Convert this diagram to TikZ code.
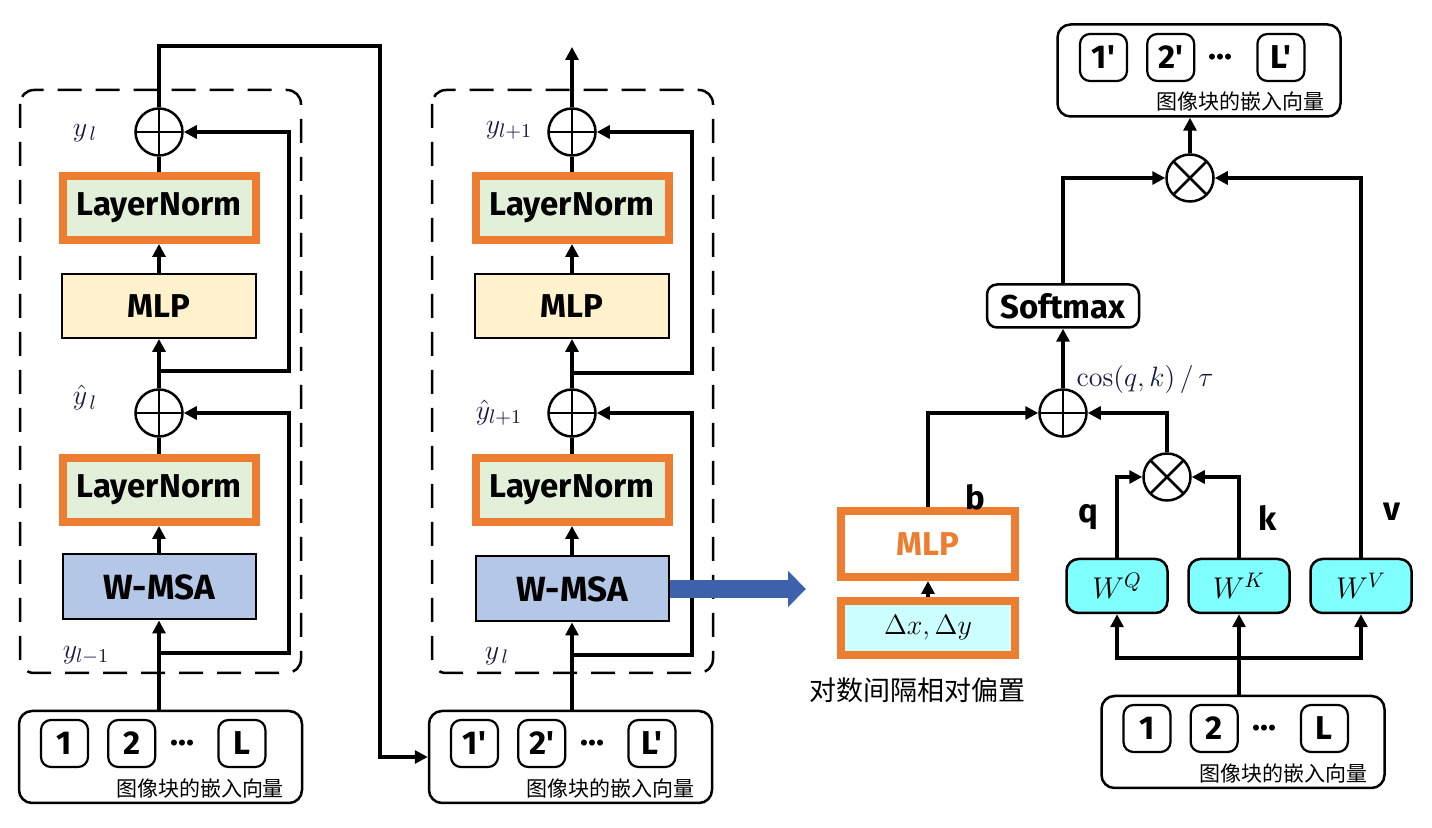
\documentclass[tikz,border=0pt]{standalone}
\usepackage{fix-cm}
\usepackage[no-math]{fontspec}
\newfontfamily\lat{Fira Sans}
\newfontfamily\cjk{Noto Sans CJK SC}
\usepackage{tikz}
\usetikzlibrary{arrows.meta,positioning}

\definecolor{orangeA}{HTML}{ED7D31}
\definecolor{greenL}{HTML}{E2F0D9}
\definecolor{yellowL}{HTML}{FFF2CC}
\definecolor{blueL}{HTML}{B4C7E7}
\definecolor{blueA}{HTML}{3D62AB}
\definecolor{cyanA}{HTML}{80FFFF}
\definecolor{cyanL}{HTML}{CCFFFF}
\definecolor{mathc}{HTML}{141A40}

\begin{document}
\begin{tikzpicture}[x=0.5pt,y=-0.5pt,
    conn/.style={line width=1.6pt},
    arr/.style={conn,-{Triangle[length=6.5pt,width=6.5pt]}},
    bigarrow/.style={line width=9pt,draw=blueA,-{Triangle[length=9pt,width=17.5pt]}},
    blockline/.style={line width=1.25pt,dash pattern=on 12pt off 7pt,rounded corners=7pt},
    boxfont/.style={font=\lat\bfseries\fontsize{16.5}{19}\selectfont},
    lnbox/.style={draw=orangeA,line width=4pt,fill=greenL,minimum width=96.5pt,minimum height=32pt,inner sep=0pt,boxfont},
    mlpbox/.style={draw,line width=1pt,fill=yellowL,minimum width=97pt,minimum height=32pt,inner sep=0pt,boxfont},
    msabox/.style={draw,line width=1pt,fill=blueL,minimum width=96.5pt,minimum height=32.5pt,inner sep=0pt,font=\lat\bfseries\fontsize{17.5}{20}\selectfont},
    addnode/.style={circle,draw,line width=1.25pt,minimum size=23.5pt,inner sep=0pt,
        path picture={\draw[line width=1.25pt] (path picture bounding box.north) -- (path picture bounding box.south)
        (path picture bounding box.west) -- (path picture bounding box.east);}},
    mulnode/.style={circle,draw,line width=1.25pt,minimum size=23.5pt,inner sep=0pt,
        path picture={\draw[line width=1.25pt] (path picture bounding box.north west) -- (path picture bounding box.south east)
        (path picture bounding box.north east) -- (path picture bounding box.south west);}},
    embbox/.style={draw,line width=1.25pt,rounded corners=6.5pt,minimum width=141.5pt,minimum height=46pt},
    tok/.style={draw,line width=1.1pt,rounded corners=5pt,minimum size=23.5pt,inner sep=0pt,boxfont},
    dots/.style={inner sep=0pt,boxfont},
    emblabel/.style={inner sep=0pt,font=\cjk\fontsize{10.5}{12}\selectfont},
    ylabel/.style={inner sep=0pt,text=mathc,font=\fontsize{14}{16}\selectfont},
    smbox/.style={draw,line width=1.25pt,rounded corners=5pt,minimum width=76pt,minimum height=21.5pt,inner sep=0pt,boxfont},
    wbox/.style={draw,line width=1.25pt,fill=cyanA,rounded corners=6pt,minimum width=50.5pt,minimum height=27pt,inner sep=0pt,font=\fontsize{15}{18}\selectfont},
    biasbox/.style={draw=orangeA,line width=4pt,fill=white,text=orangeA,minimum width=87pt,minimum height=33pt,inner sep=0pt,boxfont},
    deltabox/.style={draw=orangeA,line width=4pt,fill=cyanL,minimum width=87pt,minimum height=27pt,inner sep=0pt,font=\fontsize{14}{17}\selectfont},
    vlabel/.style={inner sep=0pt,boxfont}
]
    \useasboundingbox (0,0) rectangle (1432,828);

    % First block
    \draw[blockline] (20,90) rectangle (301,673);
    \node[addnode] (addA1) at (159,132) {};
    \node[lnbox] (lnA2) at (159,208) {LayerNorm};
    \node[mlpbox] (mlpA) at (159,306) {MLP};
    \node[addnode] (addA2) at (159,413) {};
    \node[lnbox] (lnA1) at (159,490) {LayerNorm};
    \node[msabox] (msaA) at (159,587) {W-MSA};

    \node[ylabel] (yA1) at (85,133) {$y_{\,l}$};
    \node[ylabel] (yA2) at (85,398) {$\hat{y}_{\,l}$};
    \node[ylabel] (yA0) at (86,655) {$y_{l-1}$};

    % Input embeddings of the first block
    \node[embbox] (embA) at (160.5,757) {};
    \node[tok] (a1) at (64.5,743.5) {1};
    \node[tok,right=9pt of a1] (a2) {2};
    \node[tok,right=30.5pt of a2] (aL) {L};
    \node[dots] (aD) at (182,743) {…};
    \node[emblabel] (aT) at (200,788) {图像块的嵌入向量};

    \draw[arr] (msaA |- embA.north) -- (msaA.south);
    \draw[arr] (msaA.north) -- (lnA1.south);
    \draw[conn] (lnA1.north) -- (addA2.south);
    \draw[arr] (addA2.north) -- (mlpA.south);
    \draw[arr] (mlpA.north) -- (lnA2.south);
    \draw[conn] (lnA2.north) -- (addA1.south);

    % Residual paths
    \coordinate (resA1) at (159,371);
    \coordinate (resA2) at (159,653);
    \draw[arr] (resA1) -- (289,371) |- (addA1.east);
    \draw[arr] (resA2) -- (289,653) |- (addA2.east);

    % Second block
    \draw[blockline] (432,90) rectangle (713,673);
    \node[addnode] (addB1) at (572,132) {};
    \node[lnbox] (lnB2) at (572,208) {LayerNorm};
    \node[mlpbox] (mlpB) at (572,306) {MLP};
    \node[addnode] (addB2) at (572,413) {};
    \node[lnbox] (lnB1) at (572,490) {LayerNorm};
    \node[msabox] (msaB) at (572,589) {W-MSA};

    \node[ylabel] (yB1) at (509,130) {$y_{l+1}$};
    \node[ylabel] (yB2) at (499,413) {$\hat{y}_{l+1}$};
    \node[ylabel] (yB0) at (497,656) {$y_{\,l}$};

    % Input embeddings of the second block
    \node[embbox] (embB) at (570.5,757) {};
    \node[tok] (b1) at (474.5,743.5) {1'};
    \node[tok,right=9pt of b1] (b2) {2'};
    \node[tok,right=30.5pt of b2] (bL) {L'};
    \node[dots] (bD) at (592,743) {…};
    \node[emblabel] (bT) at (610,788) {图像块的嵌入向量};

    \draw[arr] (msaB |- embB.north) -- (msaB.south);
    \draw[arr] (msaB.north) -- (lnB1.south);
    \draw[conn] (lnB1.north) -- (addB2.south);
    \draw[arr] (addB2.north) -- (mlpB.south);
    \draw[arr] (mlpB.north) -- (lnB2.south);
    \draw[conn] (lnB2.north) -- (addB1.south);
    \coordinate (outB) at (572,47);
    \draw[arr] (addB1.north) -- (outB);

    \coordinate (resB1) at (572,373);
    \coordinate (resB2) at (572,655);
    \draw[arr] (resB1) -- (692,373) |- (addB1.east);
    \draw[arr] (resB2) -- (692,655) |- (addB2.east);

    % Output of the first block feeds the second
    \coordinate (hop) at (380,46);
    \draw[arr] (addA1.north) |- (hop) |- (embB.west);

    % Relative position bias
    \coordinate (biasIn) at (806,589);
    \draw[bigarrow] (msaB.east) -- (biasIn);
    \node[biasbox] (mlpR) at (928,544) {MLP};
    \node[deltabox] (dxy) at (928,628) {$\Delta x,\Delta y$};
    \node[inner sep=0pt,font=\cjk\fontsize{13.5}{16}\selectfont] (biasT) at (917,690) {对数间隔相对偏置};
    \node[vlabel] (bLab) at (975,497) {b};
    \draw[arr] (dxy.north) -- (mlpR.south);

    % Attention
    \node[embbox] (embT) at (1199,70.5) {};
    \node[tok] (t1) at (1103.5,57.5) {1'};
    \node[tok,right=9pt of t1] (t2) {2'};
    \node[tok,right=30.5pt of t2] (tL) {L'};
    \node[dots] (tD) at (1220,57) {…};
    \node[emblabel] (tT) at (1240,102) {图像块的嵌入向量};

    \node[mulnode] (mulOut) at (1190,178) {};
    \node[smbox] (smax) at (1063,306) {Softmax};
    \node[addnode] (addR) at (1063,413) {};
    \node[ylabel] (cosL) at (1145,380) {$\cos(q,k)\,/\,\tau$};
    \node[mulnode] (mulQK) at (1167,477) {};
    \node[wbox] (wq) at (1117,586) {$W^{Q}$};
    \node[wbox] (wk) at (1239,586) {$W^{K}$};
    \node[wbox] (wv) at (1361,586) {$W^{V}$};
    \node[vlabel] (qL) at (1088,517) {q};
    \node[vlabel] (kL) at (1268,518) {k};
    \node[vlabel] (vL) at (1392,512) {v};

    \node[embbox] (embR) at (1243,742) {};
    \node[tok] (r1) at (1147,728.5) {1};
    \node[tok,right=9pt of r1] (r2) {2};
    \node[tok,right=30.5pt of r2] (rL) {L};
    \node[dots] (rD) at (1264,728) {…};
    \node[emblabel] (rT) at (1283,773) {图像块的嵌入向量};

    \coordinate (jR) at (1239,658);
    \draw[conn] (jR |- embR.north) -- (jR);
    \draw[arr] (jR) -| (wq.south);
    \draw[arr] (jR) -- (wk.south);
    \draw[arr] (jR) -| (wv.south);

    \draw[arr] (wq.north) |- (mulQK.west);
    \draw[arr] (wk.north) |- (mulQK.east);
    \draw[arr] (mulQK.north) |- (addR.east);
    \draw[arr] (mlpR.north) |- (addR.west);
    \draw[arr] (addR.north) -- (smax.south);
    \draw[arr] (smax.north) |- (mulOut.west);
    \draw[arr] (wv.north) |- (mulOut.east);
    \draw[arr] (mulOut.north) -- (mulOut.north |- embT.south);
\end{tikzpicture}
\end{document}
